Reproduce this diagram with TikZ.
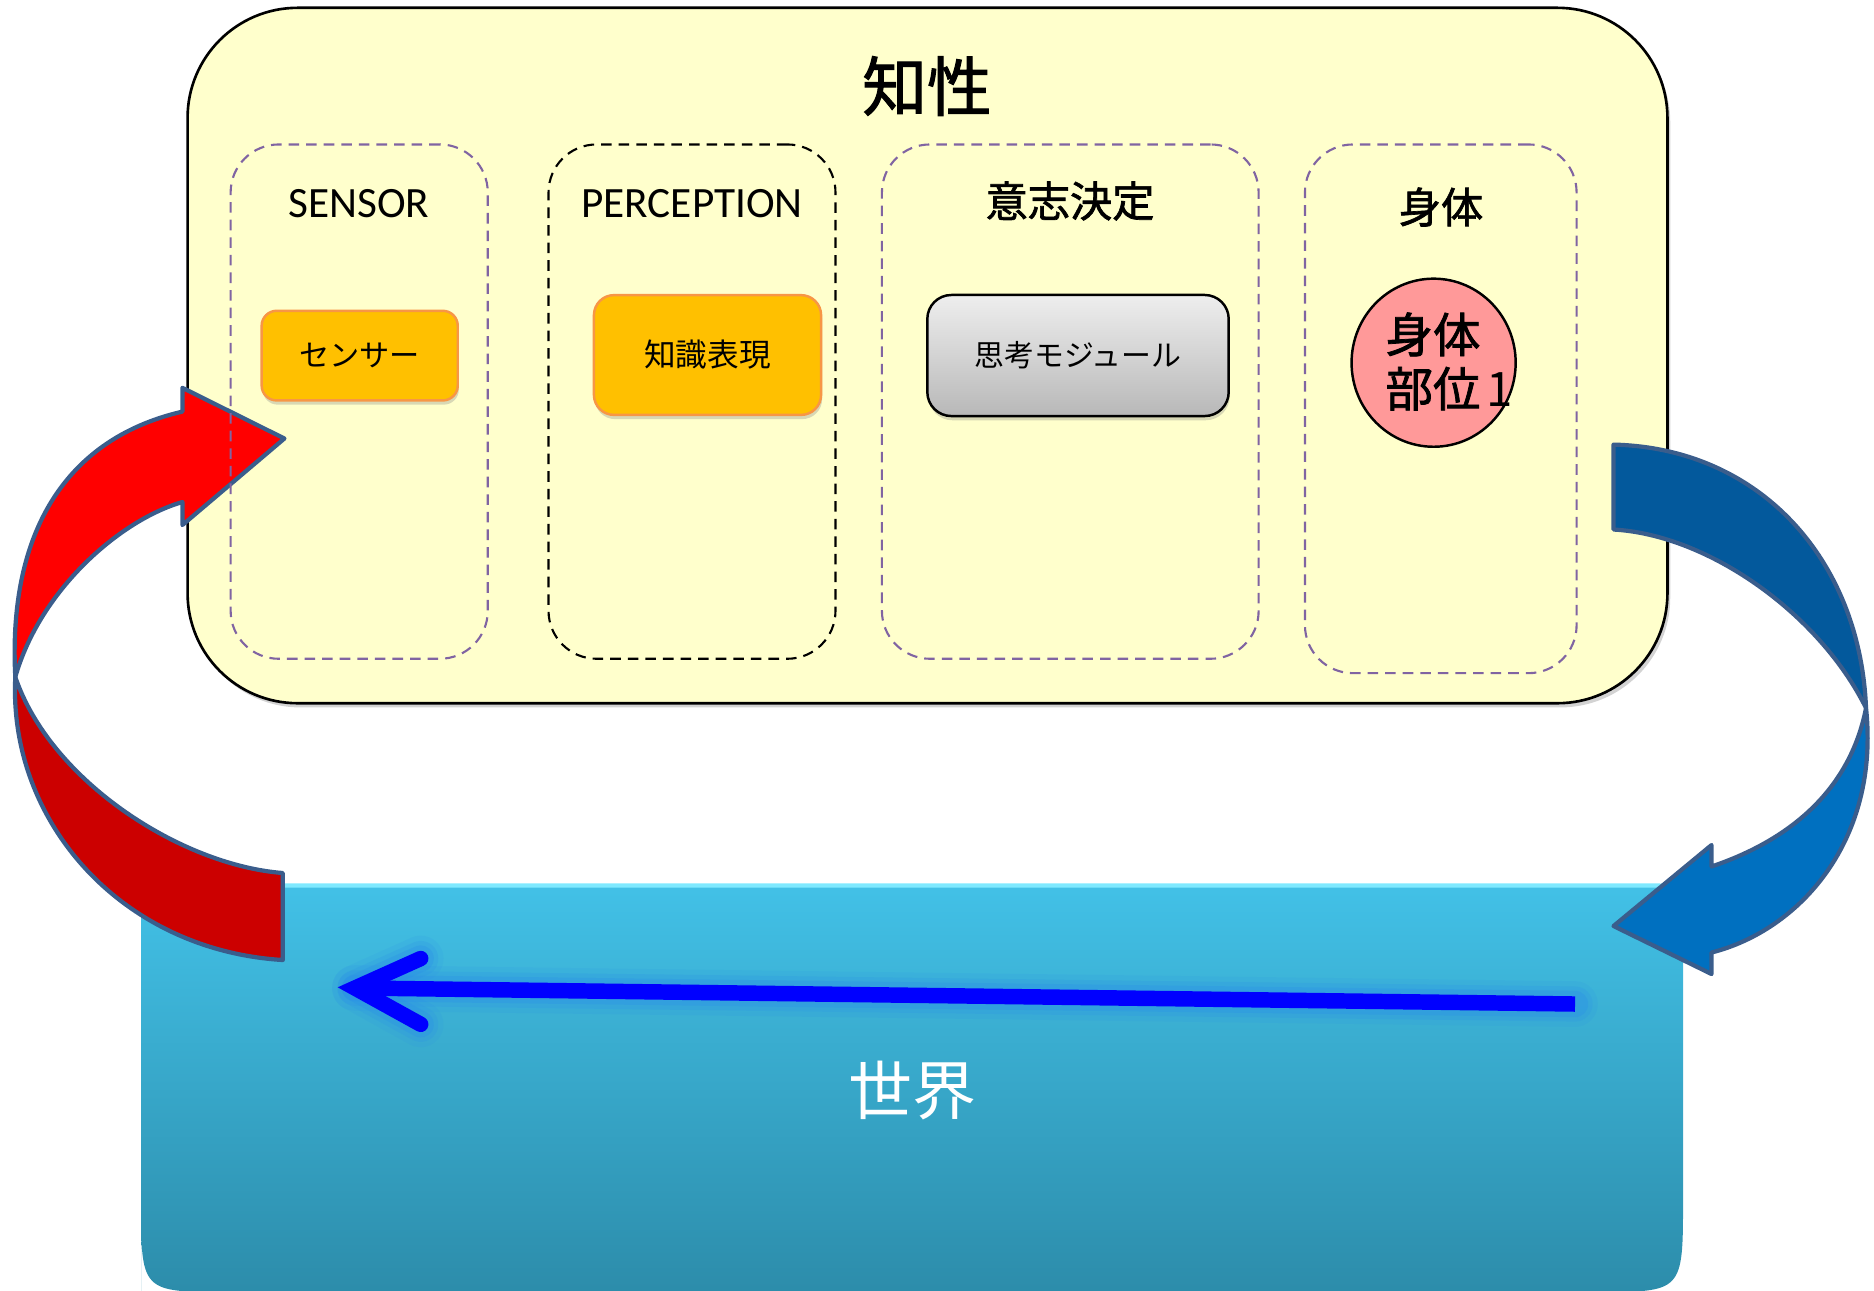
\documentclass[tikz,border=0pt]{standalone}
\usepackage{fontspec}
\setmainfont{Carlito}
\newfontfamily\jp{Noto Sans CJK JP}
\newfontfamily\jpm[FakeBold=1.6]{Noto Sans CJK JP}
\usetikzlibrary{shadows,calc,shapes.geometric}
\definecolor{paleyellow}{HTML}{FFFFCC}
\definecolor{dashpurple}{HTML}{8064A2}
\definecolor{amber}{HTML}{FFC000}
\definecolor{amberedge}{HTML}{F79646}
\definecolor{pinkfill}{HTML}{FF9999}
\definecolor{redlight}{HTML}{FF0000}
\definecolor{reddark}{HTML}{CC0000}
\definecolor{bluedark}{HTML}{03599C}
\definecolor{bluelight}{HTML}{0070C0}
\definecolor{edgeblue}{HTML}{3A5D8C}
\definecolor{worldtop}{HTML}{42C1E7}
\definecolor{worldmid}{HTML}{39ADD1}
\definecolor{worldbot}{HTML}{2C8CAA}
\definecolor{worldrim}{HTML}{7FE9FF}
\definecolor{glowblue}{HTML}{2A8FE8}
\definecolor{greytop}{HTML}{EEEEEE}
\definecolor{greybot}{HTML}{B8B8B8}
\begin{document}
\begin{tikzpicture}[x=0.01cm, y=-0.01cm,
  mainbox/.style={draw=black, line width=0.75pt, fill=paleyellow, rounded corners=1.1cm,
    inner sep=0pt, drop shadow={shadow xshift=0.8pt, shadow yshift=-1.2pt, opacity=0.35}},
  column/.style={draw=dashpurple, line width=0.6pt, dash pattern=on 3pt off 2pt,
    rounded corners=0.48cm, inner sep=0pt},
  colblack/.style={column, draw=black},
  collabel/.style={font=\fontsize{12.3pt}{14pt}\selectfont},
  jplabel/.style={font=\jpm\fontsize{12pt}{14pt}\selectfont},
  ambox/.style={draw=amberedge, line width=0.7pt, fill=amber, inner sep=0pt,
    font=\jp\fontsize{8.6pt}{10pt}\selectfont,
    drop shadow={shadow xshift=0.3pt, shadow yshift=-1.2pt, opacity=0.3}},
  greybox/.style={draw=black, line width=0.7pt, top color=greytop, bottom color=greybot,
    rounded corners=0.24cm, inner sep=0pt, font=\jp\fontsize{8.5pt}{10pt}\selectfont,
    drop shadow={shadow xshift=0.3pt, shadow yshift=-1.2pt, opacity=0.3}},
  arrowedge/.style={draw=edgeblue, line width=1.2pt, line join=round},
]
\useasboundingbox (0,0) rectangle (1874,1290);

% ---------- world ----------
\shade[top color=worldtop, middle color=worldmid, bottom color=worldbot]
  (141,1295) -- (141,912) .. controls (141,884) .. (169,884) -- (1655,884)
  .. controls (1683,884) .. (1683,912) -- (1683,1200)
  .. controls (1683,1292) .. (1596,1292) -- (228,1292)
  .. controls (141,1292) .. (141,1200) -- cycle;
\draw[worldrim, line width=1.2pt] (150,888) .. controls (160,885.5) .. (172,885.5) -- (1652,885.5) .. controls (1664,885.5) .. (1674,888);
\node[text=white, font=\jp\fontsize{18.2pt}{20pt}\selectfont] (world) at (912,1090) {世界};

% blue arrow inside world
\coordinate (wstart) at (1575,1004);
\coordinate (wtip) at (355,988);
\coordinate (warmA) at (420.7,958.5);
\coordinate (warmB) at (420.7,1024.3);
\foreach \w/\o in {13pt/0.12, 10pt/0.2, 7.5pt/0.3}{
  \draw[glowblue, opacity=\o, line width=\w, line cap=round, line join=round] (wstart) -- (wtip);
  \draw[glowblue, opacity=\o, line width=\w, line cap=round, line join=round] (warmA) -- (wtip) -- (warmB);
}
\draw[blue, line width=4.4pt] (wstart) -- ($(wtip)+(6,0)$);
\draw[blue, line width=4.4pt, line join=miter, line cap=round] (warmA) -- (wtip) -- (warmB);

% ---------- main box ----------
\node[mainbox, minimum width=14.79cm, minimum height=6.95cm] (intel) at (927.5,355.5) {};
\node[font=\jpm\fontsize{18.4pt}{20pt}\selectfont] (intellbl) at (927,86) {知性};

% ---------- red arrow (world -> sensor) ----------
\filldraw[arrowedge, fill=reddark]
  (15.3,677) .. controls (8,820) and (120,950) .. (282.8,960) -- (282.8,873)
  .. controls (180,865) and (50,780) .. (15.3,677) -- cycle;
\filldraw[arrowedge, fill=redlight]
  (15.3,677) .. controls (8,540) and (60,440) .. (182.4,411.6) -- (182.4,387.8)
  -- (284.4,438.5) -- (182.4,525) -- (182.4,502)
  .. controls (120,520) and (40,590) .. (15.3,677) -- cycle;

% ---------- columns ----------
\node[column, minimum width=2.57cm, minimum height=5.14cm] (sensorcol) at (359.2,401.6) {};
\node[colblack, minimum width=2.868cm, minimum height=5.14cm] (perccol) at (692,401.6) {};
\node[column, minimum width=3.765cm, minimum height=5.14cm] (decicol) at (1070.25,401.6) {};
\node[column, minimum width=2.715cm, minimum height=5.284cm] (bodycol) at (1440.75,408.8) {};

\node[collabel] (sensorlbl) at (359,204) {SENSOR};
\node[collabel] (perclbl) at (692,204) {PERCEPTION};
\node[jplabel] (decilbl) at (1070,201) {意志決定};
\node[jplabel] (bodylbl) at (1441,207) {身体};

% ---------- inner boxes ----------
\node[ambox, rounded corners=0.15cm, minimum width=1.96cm, minimum height=0.896cm] (sensor) at (359.7,355.6) {センサー};
\node[ambox, rounded corners=0.2cm, minimum width=2.27cm, minimum height=1.197cm, font=\jp\fontsize{9pt}{10pt}\selectfont] (knowledge) at (707.5,355) {知識表現};
\node[greybox, minimum width=3.012cm, minimum height=1.21cm] (thinking) at (1078,355.5) {思考モジュール};
\node[draw=black, line width=0.7pt, fill=pinkfill, ellipse, inner sep=0pt,
  minimum width=1.64cm, minimum height=1.68cm] (bodypart) at (1433.6,362.7) {};
\node[align=left, font=\jpm\fontsize{13.5pt}{15.4pt}\selectfont, inner sep=0pt] (bodyparttxt) at (1449,361.5) {身体\\部位\hspace{0.12em}{\jp 1}};

% ---------- blue arrow (body -> world) ----------
\filldraw[arrowedge, fill=bluedark]
  (1613.5,444.6) .. controls (1760,448) and (1860,560) .. (1866,708)
  .. controls (1820,615) and (1710,535) .. (1613.5,529.5) -- cycle;
\filldraw[arrowedge, fill=bluelight]
  (1866,708) .. controls (1880,840) and (1800,930) .. (1711.5,952.5) -- (1711.5,974)
  -- (1613.5,926) -- (1711.5,845) -- (1711.5,866.5)
  .. controls (1790,840) and (1850,790) .. (1866,708) -- cycle;
\end{tikzpicture}
\end{document}
